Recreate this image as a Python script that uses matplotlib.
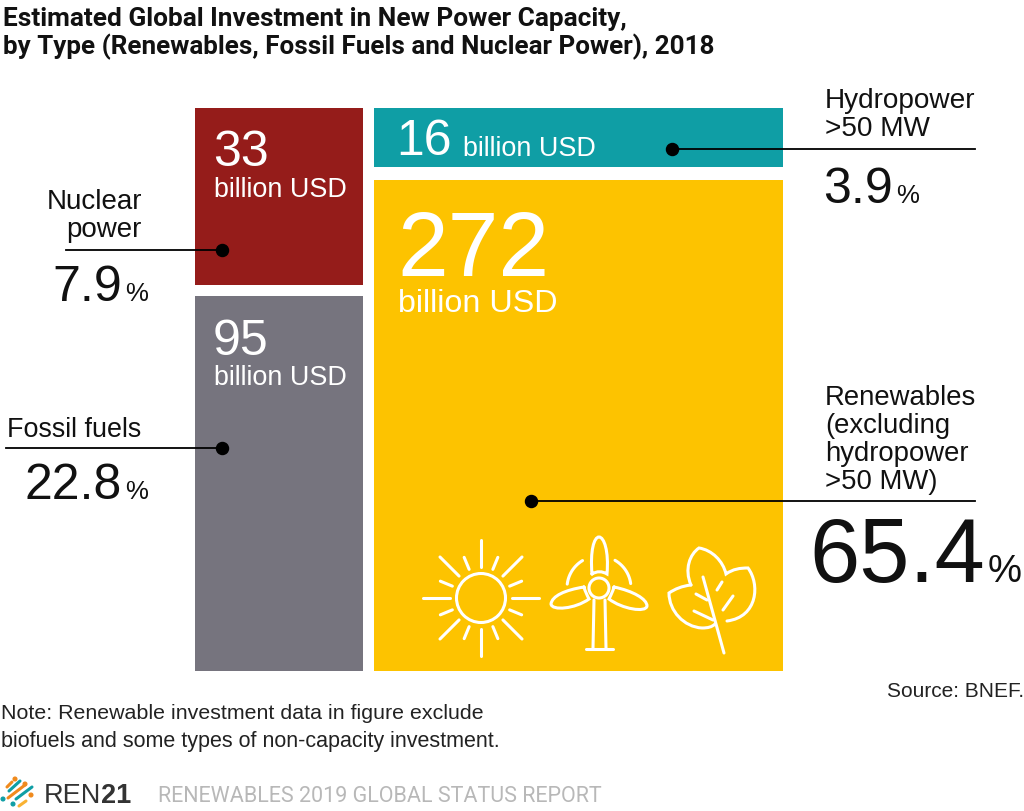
import numpy as np
import matplotlib
matplotlib.use('Agg')
import matplotlib.pyplot as plt
from matplotlib.patches import Rectangle, Circle, PathPatch
from matplotlib.path import Path

plt.rcParams['font.family'] = ['Liberation Sans', 'DejaVu Sans']
ROB = ['Roboto', 'DejaVu Sans']

sources = ['Nuclear power', 'Fossil fuels', 'Hydropower', 'Renewables']
usd = ['33', '95', '16', '272']
shares = ['7.9', '22.8', '3.9', '65.4']
colors = ['#951c1a', '#76747e', '#0f9ea5', '#fdc300']
# x0, y0, x1, y1 in picture pixels
boxes = [(195, 108.5, 363, 285.5), (195, 296.5, 363, 671.5), (374, 108.5, 783, 167.5), (374, 180.5, 783, 671.5)]
INK = '#111111'

fig = plt.figure(figsize=(10.24, 8.12), dpi=100)
ax = fig.add_axes([0, 0, 1, 1])
ax.set_xlim(0, 1024)
ax.set_ylim(812, 0)
ax.axis('off')

for b, c in zip(boxes, colors):
    ax.add_patch(Rectangle((b[0], b[1]), b[2] - b[0], b[3] - b[1], fc=c, ec='none'))


def txt(x, y, s, size, color=INK, **kw):
    ax.text(x, y, s, fontsize=size, color=color, va='baseline', **kw)


# title
txt(3, 26, 'Estimated Global Investment in New Power Capacity,', 18.9, family=ROB, fontweight='bold')
txt(3, 54, 'by Type (Renewables, Fossil Fuels and Nuclear Power), 2018', 18.7, family=ROB, fontweight='bold')

# numbers in the boxes
txt(213, 166, usd[0], 36, 'white')
txt(214, 197, 'billion USD', 19.4, 'white')
txt(213, 355, usd[1], 36, 'white')
txt(214, 385, 'billion USD', 19.4, 'white')
txt(396, 155, usd[2], 36, 'white')
txt(463, 156, 'billion USD', 19.4, 'white')
txt(397, 276, usd[3], 65.5, 'white')
txt(398, 312, 'billion USD', 23.2, 'white')

# leader lines
ax.plot([66, 222], [250.5, 250.5], color='k', lw=1.3)
ax.plot([6, 222], [449, 449], color='k', lw=1.3)
ax.plot([672, 975], [150, 150], color='k', lw=1.3)
ax.plot([531, 975], [502, 502], color='k', lw=1.3)
ax.scatter([222, 222, 672, 531], [250.5, 449, 150, 502], s=75, color='k', zorder=3)

# labels
txt(142, 209, 'Nuclear', 20, ha='right')
txt(142, 237, 'power', 20, ha='right')
txt(7, 437, sources[1], 19.4)
for y, t in zip([108, 136], ['Hydropower', '>50 MW']):
    txt(825, y, t, 20.2)
for y, t in zip([405, 433, 461, 489], ['Renewables', '(excluding', 'hydropower', '>50 MW)']):
    txt(825, y, t, 19.8)


# percentages
def pct(x, y, val, size, psize):
    txt(x + 3, y, '%', psize)
    txt(x, y, val, size, ha='right')


pct(122, 301, shares[0], 36, 18.6)
pct(122, 499, shares[1], 36, 18.6)
pct(893, 203, shares[2], 36, 18.6)
pct(985, 582, shares[3], 65, 27.5)

# source and note
txt(1024, 697, 'Source: BNEF.', 15, '#222222', ha='right')
txt(1, 719, 'Note: Renewable investment data in figure exclude', 15.4, '#222222')
txt(1, 747, 'biofuels and some types of non-capacity investment.', 15.5, '#222222')

# footer
logo = [((7, 788), (12, 783), '#f08a1d'), ((9, 792), (20, 782), '#0f9ea5'), ((8, 799), (25, 786), '#f08a1d'),
        ((16, 800), (32, 788), '#0f9ea5'), ((19, 807), (26, 802), '#f9b233')]
for p0, p1, c in logo:
    ax.plot([p0[0], p1[0]], [p0[1], p1[1]], color=c, lw=2.2, solid_capstyle='round')
ax.scatter([15, 3, 13, 31, 25], [780, 800, 805, 796, 785], s=7, color=['#f08a1d', '#0f9ea5', '#0f9ea5', '#f08a1d', '#f08a1d'])
txt(44, 803, 'REN', 19.5, '#333333')
txt(101, 803, '21', 19.5, '#333333', fontweight='bold')
txt(158, 802, 'RENEWABLES 2019 GLOBAL STATUS REPORT', 15.5, '#b8b8b8', family=ROB)

# icons
LW = 2.2
W = dict(color='white', lw=LW, solid_capstyle='round', zorder=4)


def curve(start, *segs):
    # start point then cubic segments, each with three points
    verts = [start]
    codes = [Path.MOVETO]
    for s in segs:
        verts += list(s)
        codes += [Path.CURVE4] * 3
    ax.add_patch(PathPatch(Path(verts, codes), fc='none', ec='white', lw=LW, capstyle='round', zorder=4))


# sun
cx, cy = 481, 599
ax.add_patch(Circle((cx, cy), 24.5, fc='none', ec='white', lw=LW, zorder=4))
for ang in range(0, 360, 45):
    a = np.radians(ang)
    ax.plot([cx + 31 * np.cos(a), cx + 58 * np.cos(a)], [cy + 31 * np.sin(a), cy + 58 * np.sin(a)], **W)
for ang in np.arange(22.5, 360, 45):
    a = np.radians(ang)
    ax.plot([cx + 31 * np.cos(a), cx + 44 * np.cos(a)], [cy + 31 * np.sin(a), cy + 44 * np.sin(a)], **W)

# turbine
tx, ty = 599, 589
ax.add_patch(Circle((tx, ty), 10, fc='none', ec='white', lw=LW, zorder=4))
curve((592, 575), [(590, 552), (594, 538), (599, 538)], [(604, 538), (609, 552), (607, 575)], [(602, 572), (597, 572), (592, 575)])
curve((584, 588), [(565, 591), (552, 597), (551, 605)], [(552, 612), (575, 610), (589, 600)], [(587, 596), (585, 592), (584, 588)])
curve((614, 588), [(633, 592), (647, 600), (647, 607)], [(646, 614), (622, 610), (609, 600)], [(611, 596), (613, 592), (614, 588)])
ax.plot([594, 593], [601, 649], **W)
ax.plot([605, 606], [601, 649], **W)
ax.plot([586, 613], [650, 650], **W)
arc1 = np.radians(np.arange(187, 241, 4))
ax.plot(tx + 32 * np.cos(arc1), ty + 32 * np.sin(arc1), **W)
arc2 = np.radians(np.arange(300, 354, 4))
ax.plot(tx + 32 * np.cos(arc2), ty + 32 * np.sin(arc2), **W)

# leaf
curve((691, 586), [(684, 570), (690, 555), (699, 549)], [(712, 551), (723, 562), (726, 575)],
      [(733, 570), (740, 569), (748, 569)], [(760, 585), (758, 618), (727, 622)])
curve((691, 586), [(682, 587), (675, 590), (669, 594)], [(669, 612), (684, 628), (702, 629)], [(708, 629), (712, 628), (715, 625)])
ax.plot([703, 724], [578, 654], **W)
ax.plot([696, 707], [595, 601], **W)
ax.plot([694, 713], [612, 621], **W)
ax.plot([717, 722], [591, 583], **W)
ax.plot([723, 733], [611, 597], **W)

fig.savefig('out.png', dpi=100)
